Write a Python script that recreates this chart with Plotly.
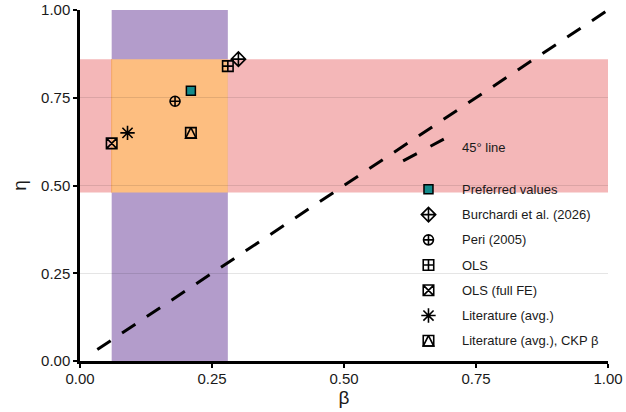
import plotly.graph_objects as go

# ---- data -------------------------------------------------------------
SERIES = [
    "Preferred values",
    "Burchardi et al. (2026)",
    "Peri (2005)",
    "OLS",
    "OLS (full FE)",
    "Literature (avg.)",
    "Literature (avg.), CKP β",
]
BETA = [0.21, 0.30, 0.18, 0.28, 0.06, 0.09, 0.21]
ETA = [0.77, 0.86, 0.74, 0.84, 0.62, 0.65, 0.65]

LINE_LABEL = "45° line"
DIAG = [0.0, 1.0]

BETA_BAND = [0.06, 0.28]
ETA_BAND = [0.48, 0.86]

TICK_VALS = [0.0, 0.25, 0.5, 0.75, 1.0]
TICK_TEXT = ["0.00", "0.25", "0.50", "0.75", "1.00"]

X_TITLE = "β"
Y_TITLE = "η"

# ---- styling ----------------------------------------------------------
FONT = "Liberation Sans, Arial, Helvetica, sans-serif"
INK = "#1a1a1a"
TEAL = "#138b8b"
PINK = "#f4b7b8"
PURPLE = "#b39ccb"
ORANGE = "#fdbe80"
ORANGE_EDGE = "#f7a766"
LW = 1.6
LEG_FONT = 13

# one or more stacked marker layers per series
MARKERS = [
    [dict(symbol="square", size=9, color=TEAL, line=dict(color="black", width=1.5))],
    [dict(symbol="diamond-cross-open", size=11, color="black", line=dict(width=LW))],
    [dict(symbol="circle-cross-open", size=10, color="black", line=dict(width=LW))],
    [dict(symbol="square-cross-open", size=10.5, color="black", line=dict(width=LW))],
    [dict(symbol="square-x-open", size=10.5, color="black", line=dict(width=LW))],
    [dict(symbol="asterisk-open", size=12, color="black", line=dict(width=LW))],
    [
        dict(symbol="square-open", size=10.5, color="black", line=dict(width=LW)),
        dict(symbol="arrow-down-open", size=10.5, angle=180, standoff=5.25,
             color="black", line=dict(width=LW)),
    ],
]


def phased_dash(lead, on, off, repeats):
    parts = ["0px", f"{lead}px"]
    for _ in range(repeats):
        parts += [f"{on}px", f"{off}px"]
    return ",".join(parts)


# legend block placement (in the overlay axes' 0..1 units)
LEG_KEY_X = 0.660
LEG_TEXT_X = 0.720
LEG_ROW0_Y = 0.489
LEG_ROW_STEP = 0.0719
LEG_LINE_TEXT_Y = 0.609
LEG_LINE_X = [0.612, 0.689]
LEG_LINE_Y = [0.570, 0.632]

fig = go.Figure()

# 45-degree reference line
fig.add_trace(go.Scatter(
    x=DIAG, y=DIAG, mode="lines", name=LINE_LABEL, showlegend=False,
    line=dict(color="black", width=3, dash=phased_dash(20.8, 16, 13.7, 24)),
    hoverinfo="skip",
))

# estimates
for name, b, e, layers in zip(SERIES, BETA, ETA, MARKERS):
    for m in layers:
        fig.add_trace(go.Scatter(
            x=[b], y=[e], mode="markers", name=name, showlegend=False,
            marker=m, hovertemplate=f"{name}<br>β=%{{x}}<br>η=%{{y}}<extra></extra>",
        ))

# legend drawn on a hidden overlay axis pair
fig.add_trace(go.Scatter(
    x=LEG_LINE_X, y=LEG_LINE_Y, mode="lines", xaxis="x2", yaxis="y2",
    showlegend=False, hoverinfo="skip",
    line=dict(color="black", width=3, dash="15.5px,15.5px"),
))
annotations = [dict(
    x=LEG_TEXT_X, y=LEG_LINE_TEXT_Y, xref="x2", yref="y2", text=LINE_LABEL,
    showarrow=False, xanchor="left", yanchor="middle",
    font=dict(family=FONT, size=LEG_FONT, color=INK),
)]
for i, (name, layers) in enumerate(zip(SERIES, MARKERS)):
    ry = LEG_ROW0_Y - i * LEG_ROW_STEP
    for m in layers:
        fig.add_trace(go.Scatter(
            x=[LEG_KEY_X], y=[ry], mode="markers", xaxis="x2", yaxis="y2",
            showlegend=False, hoverinfo="skip", marker=m,
        ))
    annotations.append(dict(
        x=LEG_TEXT_X, y=ry, xref="x2", yref="y2", text=name,
        showarrow=False, xanchor="left", yanchor="middle",
        font=dict(family=FONT, size=LEG_FONT, color=INK),
    ))

# shaded plausible ranges
shapes = [
    dict(type="rect", xref="x domain", yref="y", x0=0, x1=1,
         y0=ETA_BAND[0], y1=ETA_BAND[1], fillcolor=PINK, line=dict(width=0), layer="below"),
    dict(type="rect", xref="x", yref="y domain", x0=BETA_BAND[0], x1=BETA_BAND[1],
         y0=0, y1=1, fillcolor=PURPLE, line=dict(width=0), layer="below"),
    dict(type="rect", xref="x", yref="y", x0=BETA_BAND[0], x1=BETA_BAND[1],
         y0=ETA_BAND[0], y1=ETA_BAND[1], fillcolor=ORANGE, line=dict(width=0), layer="below"),
    dict(type="line", xref="x", yref="y", x0=BETA_BAND[0], x1=BETA_BAND[0],
         y0=ETA_BAND[0], y1=ETA_BAND[1], line=dict(color=ORANGE_EDGE, width=1), layer="below"),
]

axis_common = dict(
    range=[0, 1], tickvals=TICK_VALS, ticktext=TICK_TEXT,
    showline=True, linecolor="black", linewidth=2.5,
    ticks="outside", ticklen=4, tickwidth=1.8, tickcolor="black",
    tickfont=dict(family=FONT, size=15, color=INK),
    zeroline=False, fixedrange=True, automargin=False,
)

fig.update_layout(
    width=626, height=412,
    margin=dict(l=80, r=18, t=10, b=51, autoexpand=False),
    paper_bgcolor="white", plot_bgcolor="white",
    font=dict(family=FONT, color=INK),
    showlegend=False,
    shapes=shapes,
    annotations=annotations,
    xaxis=dict(**axis_common, showgrid=False, ticklabelstandoff=-2,
               title=dict(text=X_TITLE, font=dict(family=FONT, size=19, color=INK), standoff=1)),
    yaxis=dict(**axis_common, showgrid=True, gridcolor="rgba(0,0,0,0.1)", gridwidth=1,
               title=dict(text=Y_TITLE, font=dict(family=FONT, size=19, color=INK), standoff=10)),
    xaxis2=dict(overlaying="x", anchor="y2", range=[0, 1], visible=False, fixedrange=True),
    yaxis2=dict(overlaying="y", anchor="x2", range=[0, 1], visible=False, fixedrange=True),
)

fig.write_html("out.html")
